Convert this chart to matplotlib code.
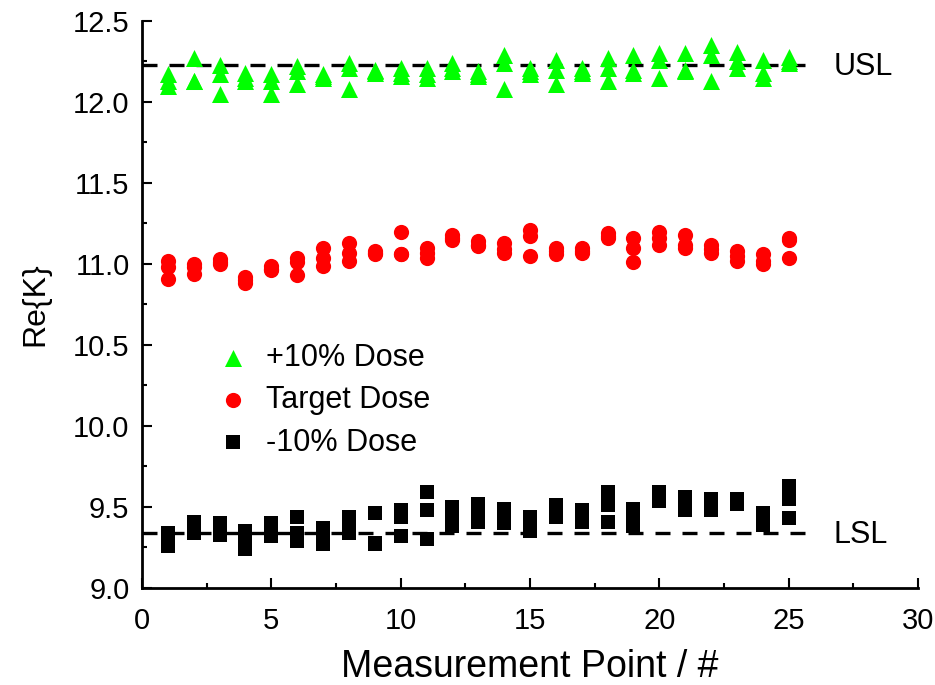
import matplotlib
matplotlib.use("Agg")
import matplotlib.pyplot as plt
from matplotlib.ticker import MultipleLocator, FormatStrFormatter
import numpy as np

plt.rcParams['font.family'] = ['Liberation Sans', 'DejaVu Sans']

# measurement points (three repeats at each)
points = list(range(1, 26))

# +10% dose
plus10 = [
    [12.17, 12.13, 12.10], [12.27, 12.13, 12.13], [12.23, 12.17, 12.05],
    [12.18, 12.15, 12.13], [12.17, 12.13, 12.05], [12.22, 12.19, 12.11],
    [12.17, 12.16, 12.15], [12.24, 12.21, 12.08], [12.20, 12.19, 12.18],
    [12.21, 12.18, 12.16], [12.21, 12.17, 12.15], [12.24, 12.21, 12.19],
    [12.19, 12.17, 12.16], [12.29, 12.24, 12.08], [12.21, 12.19, 12.17],
    [12.26, 12.20, 12.11], [12.21, 12.19, 12.18], [12.27, 12.21, 12.13],
    [12.29, 12.20, 12.18], [12.30, 12.26, 12.15], [12.30, 12.20, 12.19],
    [12.35, 12.29, 12.13], [12.31, 12.25, 12.21], [12.26, 12.18, 12.15],
    [12.28, 12.25, 12.24],
]

# target dose
target = [
    [11.02, 10.98, 10.91], [11.00, 10.98, 10.94], [11.03, 11.01, 11.00],
    [10.92, 10.90, 10.88], [10.99, 10.97, 10.96], [11.04, 11.01, 10.93],
    [11.10, 11.04, 10.99], [11.13, 11.07, 11.02], [11.08, 11.07, 11.06],
    [11.20, 11.06, 11.06], [11.10, 11.07, 11.04], [11.18, 11.16, 11.15],
    [11.14, 11.12, 11.11], [11.13, 11.09, 11.07], [11.21, 11.17, 11.05],
    [11.10, 11.08, 11.06], [11.10, 11.08, 11.07], [11.19, 11.17, 11.16],
    [11.16, 11.10, 11.01], [11.20, 11.16, 11.12], [11.18, 11.12, 11.10],
    [11.12, 11.09, 11.07], [11.08, 11.05, 11.02], [11.06, 11.02, 11.00],
    [11.16, 11.15, 11.04],
]

# -10% dose
minus10 = [
    [9.34, 9.30, 9.26], [9.41, 9.37, 9.34], [9.40, 9.36, 9.33],
    [9.35, 9.30, 9.24], [9.40, 9.36, 9.32], [9.44, 9.34, 9.29],
    [9.37, 9.32, 9.27], [9.44, 9.35, 9.34], [9.46, 9.28, 9.27],
    [9.48, 9.44, 9.32], [9.59, 9.48, 9.30], [9.50, 9.45, 9.38],
    [9.52, 9.47, 9.41], [9.49, 9.44, 9.40], [9.44, 9.40, 9.35],
    [9.51, 9.47, 9.44], [9.48, 9.45, 9.41], [9.59, 9.51, 9.41],
    [9.49, 9.43, 9.38], [9.59, 9.56, 9.54], [9.56, 9.52, 9.48],
    [9.55, 9.51, 9.48], [9.55, 9.53, 9.52], [9.46, 9.42, 9.39],
    [9.63, 9.55, 9.43],
]

usl = 12.23
lsl = 9.34
limit_x = [0, 26]

series = [
    ("+10% Dose", plus10, "^", "#00ff00", 150),
    ("Target Dose", target, "o", "#ff0000", 120),
    ("-10% Dose", minus10, "s", "#000000", 95),
]

fig = plt.figure(figsize=(9.35, 6.85), dpi=100)
ax = fig.add_axes([142 / 935, 97 / 685, 776 / 935, 567 / 685])

for label, vals, mk, col, s in series:
    arr = np.array(vals)
    xs = np.repeat(points, arr.shape[1])
    ax.scatter(xs, arr.ravel(), marker=mk, color=col, s=s, linewidths=0,
               label=label, zorder=3)

for lim in (usl, lsl):
    ax.plot(limit_x, [lim, lim], color="black", lw=2.4,
            linestyle=(0, (4.5, 3.6)), zorder=2)

ax.text(26.75, usl - 0.015, "USL", fontsize=22, va="center", ha="left")
ax.text(26.75, lsl - 0.015, "LSL", fontsize=22, va="center", ha="left")

ax.set_xlim(0, 30)
ax.set_ylim(9.0, 12.5)
ax.xaxis.set_major_locator(MultipleLocator(5))
ax.xaxis.set_minor_locator(MultipleLocator(2.5))
ax.yaxis.set_major_locator(MultipleLocator(0.5))
ax.yaxis.set_minor_locator(MultipleLocator(0.25))
ax.yaxis.set_major_formatter(FormatStrFormatter("%.1f"))

for side in ("top", "right"):
    ax.spines[side].set_visible(False)
for side in ("left", "bottom"):
    ax.spines[side].set_linewidth(2)

ax.tick_params(which="major", direction="in", length=7, width=1.5,
               labelsize=21)
ax.tick_params(axis="x", which="major", pad=14)
ax.tick_params(axis="y", which="major", pad=9)
ax.tick_params(which="minor", direction="in", length=3.5, width=1.5)

ax.set_xlabel("Measurement Point / #", fontsize=27, labelpad=10)
ax.set_ylabel("Re{K}", fontsize=23, labelpad=16)

ax.legend(loc="upper left", bbox_to_anchor=(0.097, 0.432), frameon=False,
          fontsize=22, handlelength=1.0, handletextpad=0.6, labelspacing=0.4,
          borderpad=0, borderaxespad=0, scatterpoints=1, markerscale=1.0)

fig.savefig("out.png", dpi=100)
